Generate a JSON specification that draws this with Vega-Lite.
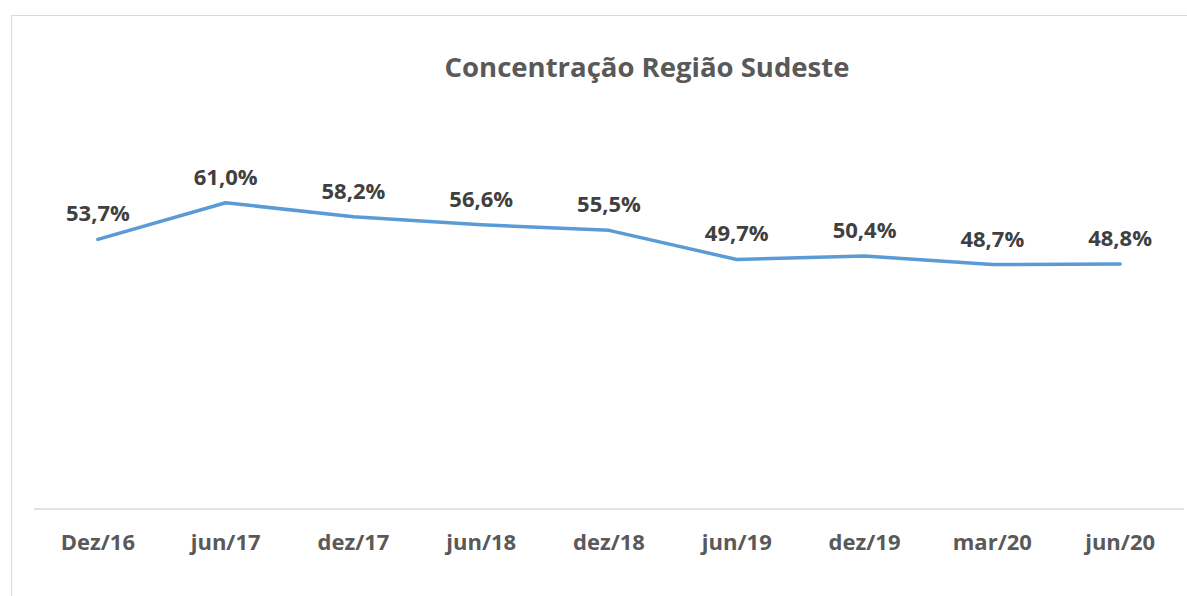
{
  "$schema": "https://vega.github.io/schema/vega-lite/v6.json",
  "width": 1196,
  "height": 585,
  "autosize": {"type": "none"},
  "padding": {"left": 11, "top": 15, "right": 0, "bottom": 0},
  "background": "white",
  "config": {
    "view": {"stroke": "#d9d9d9", "strokeWidth": 1},
    "font": "Open Sans",
    "locale": {"number": {"decimal": ",", "thousands": ".", "grouping": [3], "currency": ["R$", ""]}}
  },
  "title": {
    "text": "Concentração Região Sudeste",
    "font": "Open Sans",
    "fontSize": 27.5,
    "fontWeight": "bold",
    "color": "#595959",
    "anchor": "middle",
    "baseline": "alphabetic",
    "dx": 38,
    "dy": 93
  },
  "data": {
    "values": [
      {"periodo": "Dez/16", "valor": 0.537},
      {"periodo": "jun/17", "valor": 0.610},
      {"periodo": "dez/17", "valor": 0.582},
      {"periodo": "jun/18", "valor": 0.566},
      {"periodo": "dez/18", "valor": 0.555},
      {"periodo": "jun/19", "valor": 0.497},
      {"periodo": "dez/19", "valor": 0.504},
      {"periodo": "mar/20", "valor": 0.487},
      {"periodo": "jun/20", "valor": 0.488}
    ]
  },
  "encoding": {
    "x": {
      "field": "periodo",
      "type": "nominal",
      "sort": null,
      "scale": {"type": "band", "paddingInner": 0, "paddingOuter": 0.18},
      "axis": {
        "orient": "bottom",
        "offset": -92,
        "domain": false,
        "ticks": false,
        "tickSize": 0,
        "grid": false,
        "title": null,
        "labelAngle": 0,
        "labelPadding": 24,
        "labelFont": "Open Sans",
        "labelFontSize": 22,
        "labelFontWeight": "bold",
        "labelColor": "#595959"
      }
    }
  },
  "layer": [
    {
      "mark": {"type": "rect", "fill": "transparent", "stroke": "#d9d9d9", "strokeWidth": 1.3},
      "encoding": {
        "y": {"datum": 0, "type": "quantitative", "scale": {"domain": [-0.1813, 0.984]}, "axis": null},
        "y2": {"datum": 0}
      }
    },
    {
      "mark": {"type": "line", "stroke": "#5b9bd5", "strokeWidth": 3.5, "strokeCap": "round", "strokeJoin": "round"},
      "encoding": {
        "y": {"field": "valor", "type": "quantitative", "scale": {"domain": [-0.1813, 0.984]}, "axis": null}
      }
    },
    {
      "mark": {"type": "text", "font": "Open Sans", "fontSize": 22, "fontWeight": "bold", "color": "#404040", "baseline": "alphabetic", "dy": -18},
      "encoding": {
        "y": {"field": "valor", "type": "quantitative", "scale": {"domain": [-0.1813, 0.984]}, "axis": null},
        "text": {"field": "valor", "type": "quantitative", "format": ".1%"}
      }
    }
  ]
}
